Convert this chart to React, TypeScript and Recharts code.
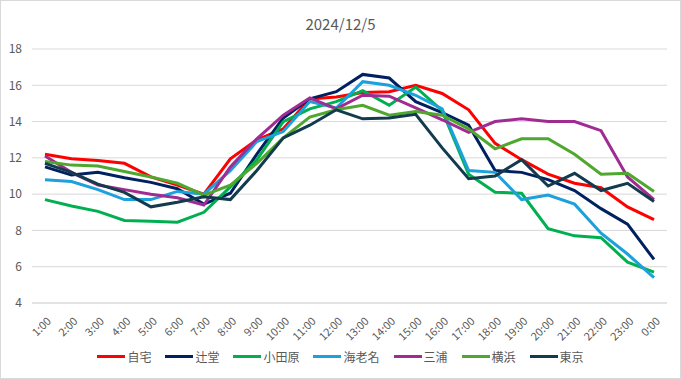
import React from 'react';
import { LineChart, Line, XAxis, YAxis, CartesianGrid, Legend } from 'recharts';

const hours = [
  '1:00', '2:00', '3:00', '4:00', '5:00', '6:00', '7:00', '8:00', '9:00', '10:00', '11:00', '12:00',
  '13:00', '14:00', '15:00', '16:00', '17:00', '18:00', '19:00', '20:00', '21:00', '22:00', '23:00', '0:00',
];

const jitaku = [12.2, 11.95, 11.85, 11.7, 10.95, 10.5, 10.0, 11.95, 13.0, 13.6, 15.25, 15.35, 15.6, 15.65, 16.0, 15.55, 14.65, 12.8, 11.9, 11.1, 10.6, 10.35, 9.3, 8.6];
const tsujido = [11.5, 11.05, 11.2, 10.9, 10.65, 10.3, 9.45, 10.05, 12.2, 14.2, 15.25, 15.65, 16.6, 16.4, 15.1, 14.5, 13.8, 11.3, 11.2, 10.8, 10.2, 9.2, 8.35, 6.4];
const odawara = [9.7, 9.35, 9.05, 8.55, 8.5, 8.45, 9.0, 10.4, 11.9, 14.0, 14.7, 15.1, 15.7, 14.9, 15.9, 14.6, 11.1, 10.1, 10.05, 8.1, 7.7, 7.6, 6.25, 5.7];
const ebina = [10.8, 10.7, 10.25, 9.7, 9.7, 10.15, 10.0, 11.3, 12.9, 13.45, 15.1, 14.75, 16.2, 16.0, 15.45, 14.7, 11.3, 11.2, 9.7, 9.95, 9.45, 7.85, 6.7, 5.4];
const miura = [12.1, 11.2, 10.5, 10.25, 10.0, 9.8, 9.4, 11.5, 13.05, 14.35, 15.3, 14.7, 15.45, 15.4, 14.75, 14.1, 13.4, 14.0, 14.15, 14.0, 14.0, 13.5, 10.95, 9.7];
const yokohama = [11.8, 11.6, 11.55, 11.25, 10.95, 10.6, 9.95, 10.5, 11.7, 13.1, 14.25, 14.65, 14.9, 14.35, 14.55, 14.35, 13.6, 12.5, 13.05, 13.05, 12.2, 11.1, 11.15, 10.15];
const tokyo = [11.7, 11.2, 10.55, 10.1, 9.3, 9.55, 9.85, 9.7, 11.3, 13.1, 13.8, 14.65, 14.15, 14.2, 14.4, 12.55, 10.85, 11.0, 11.9, 10.45, 11.15, 10.2, 10.6, 9.6];

const yTicks = [4, 6, 8, 10, 12, 14, 16, 18];

const series = [
  { key: '自宅', values: jitaku, color: '#ff0000' },
  { key: '辻堂', values: tsujido, color: '#002060' },
  { key: '小田原', values: odawara, color: '#00b050' },
  { key: '海老名', values: ebina, color: '#1ba1db' },
  { key: '三浦', values: miura, color: '#a02b93' },
  { key: '横浜', values: yokohama, color: '#4ea72e' },
  { key: '東京', values: tokyo, color: '#123b4e' },
];

const data = hours.map((h, i) => {
  const row: Record<string, string | number> = { hour: h };
  series.forEach(s => { row[s.key] = s.values[i]; });
  return row;
});

const FONT = '"Noto Sans CJK JP", "Noto Sans", sans-serif';

const HourTick = (props: any) => {
  const { x, y, payload } = props;
  return (
    <g transform={`translate(${x + 4},${y + 8})`}>
      <text x={0} y={0} dy={4} textAnchor="end" transform="rotate(-45)" fill="#595959" fontSize={11} fontFamily={FONT}>
        {payload.value}
      </text>
    </g>
  );
};

const LegendRow = () => (
  <div style={{ display: 'flex', justifyContent: 'center', alignItems: 'center', gap: 14, fontFamily: FONT, fontSize: 12, color: '#595959' }}>
    {series.map(s => (
      <div key={s.key} style={{ display: 'flex', alignItems: 'center' }}>
        <span style={{ display: 'inline-block', width: 28, height: 3, background: s.color, marginRight: 2 }} />
        <span>{s.key}</span>
      </div>
    ))}
  </div>
);

export default function App() {
  return (
    <div style={{ position: 'absolute', left: 0, top: 0, width: 679, height: 377, border: '1px solid #d9d9d9', background: '#fff' }}>
      <div style={{ position: 'absolute', top: 12, width: '100%', textAlign: 'center', fontFamily: FONT, fontSize: 15, color: '#595959' }}>
        2024/12/5
      </div>
      <LineChart width={679} height={377} data={data} margin={{ top: 48, right: 13, bottom: 30, left: 0 }}>
        <CartesianGrid vertical={false} stroke="#d9d9d9" />
        <XAxis
          dataKey="hour"
          interval={0}
          height={45}
          padding={{ left: 13, right: 13 }}
          tick={<HourTick />}
          tickLine={false}
          axisLine={{ stroke: '#d9d9d9' }}
        />
        <YAxis
          domain={[4, 18]}
          ticks={yTicks}
          width={31}
          tickLine={false}
          axisLine={false}
          tickMargin={4}
          tick={{ fill: '#595959', fontSize: 12, fontFamily: FONT }}
        />
        <Legend
          layout="horizontal"
          verticalAlign="middle"
          align="center"
          wrapperStyle={{ top: 347, left: 0, width: 679 }}
          content={<LegendRow />}
        />
        {series.map(s => (
          <Line
            key={s.key}
            type="linear"
            dataKey={s.key}
            stroke={s.color}
            strokeWidth={3}
            dot={false}
            isAnimationActive={false}
          />
        ))}
      </LineChart>
    </div>
  );
}
